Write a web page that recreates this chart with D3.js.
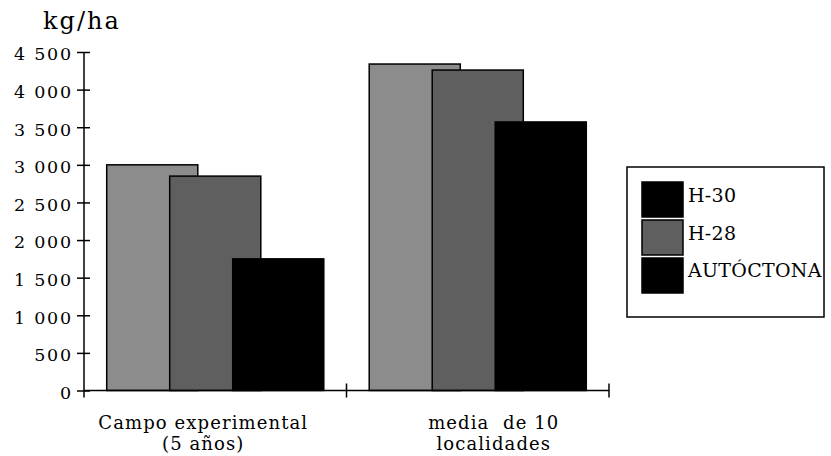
<!DOCTYPE html>
<html>
<head>
<meta charset="utf-8">
<script src="https://cdn.jsdelivr.net/npm/d3@7"></script>
<style>
  html, body { margin: 0; padding: 0; background: #fff; }
  svg { display: block; }
  text { font-family: "DejaVu Serif", serif; fill: #000; }
</style>
</head>
<body>
<svg id="chart" width="831" height="456"></svg>
<script>
// Rendimiento medio (kg/ha) por variedad
const categories = [["Campo experimental", "(5 años)"], ["media  de 10", "localidades"]];
const seriesNames = ["H-30", "H-28", "AUTÓCTONA"];
const h30 = [3000, 4340];
const h28 = [2850, 4260];
const autoctona = [1750, 3570];
const yTicks = [0, 500, 1000, 1500, 2000, 2500, 3000, 3500, 4000, 4500];
const yUnit = "kg/ha";

const barFills = ["#8c8c8c", "#5f5f5f", "#000000"];
const legendFills = ["#000000", "#5f5f5f", "#000000"];
const series = [h30, h28, autoctona];

const svg = d3.select("#chart");
const plotL = 84, plotR = 609, plotT = 52, plotB = 390.5;
const labelShift = [-12, 16];

const x = d3.scaleBand().domain(d3.range(categories.length)).range([plotL, plotR]).padding(0);
const y = d3.scaleLinear().domain([0, 4500]).range([plotB, plotT]);

// Overlapping bars within each category
const bw = x.bandwidth();
const barW = bw * 0.347;
const stepW = bw * 0.24;
const groupW = stepW * (series.length - 1) + barW;
const offset = (bw - groupW) / 2;

const fmt = d3.formatLocale({ decimal: ",", thousands: " ", grouping: [3], currency: ["", ""] }).format(",");

// Bars
series.forEach((vals, si) => {
  svg.append("g").selectAll("rect").data(vals).join("rect")
    .attr("x", (d, i) => x(i) + offset + si * stepW)
    .attr("y", d => y(d))
    .attr("width", barW)
    .attr("height", d => y(0) - y(d))
    .attr("fill", barFills[si])
    .attr("stroke", "#000")
    .attr("stroke-width", 1.5);
});

// Y axis
const yAxis = svg.append("g").attr("transform", `translate(${plotL},0)`)
  .call(d3.axisLeft(y).tickValues(yTicks).tickFormat(fmt).tickSize(7).tickPadding(4));
yAxis.select(".domain").remove();
yAxis.append("line").attr("x1", 0).attr("x2", 0).attr("y1", plotT).attr("y2", plotB + 7)
  .attr("stroke", "#000").attr("stroke-width", 1.5);
yAxis.selectAll(".tick line").attr("x1", 6).attr("stroke-width", 1.5);
yAxis.selectAll(".tick text")
  .style("font-family", "'DejaVu Serif', serif").style("font-size", "17.5px")
  .style("letter-spacing", "1.8px")
  .attr("dy", "0.45em")
  .attr("fill", "#000");

// X axis
const xg = svg.append("g");
xg.append("line").attr("x1", plotL).attr("x2", plotR).attr("y1", plotB).attr("y2", plotB)
  .attr("stroke", "#000").attr("stroke-width", 1.5);
xg.selectAll("line.tk").data(d3.range(1, categories.length + 1)).join("line")
  .attr("class", "tk")
  .attr("x1", i => x(i - 1) + bw).attr("x2", i => x(i - 1) + bw)
  .attr("y1", plotB - 7).attr("y2", plotB + 7)
  .attr("stroke", "#000").attr("stroke-width", 1.5);
const xl = xg.selectAll("text").data(categories).join("text")
  .attr("text-anchor", "middle")
  .style("font-size", "18px")
  .style("letter-spacing", "1.1px")
  .style("white-space", "pre");
xl.each(function(lines, i) {
  const t = d3.select(this);
  lines.forEach((ln, k) => {
    t.append("tspan").attr("x", x(i) + bw / 2 + labelShift[i]).attr("y", 429 + k * 21).text(ln);
  });
});

// Unit label
svg.append("text").attr("x", 43).attr("y", 29)
  .style("font-size", "24px").style("letter-spacing", "2px").text(yUnit);

// Legend
const lg = svg.append("g");
lg.append("rect").attr("x", 627).attr("y", 167).attr("width", 197).attr("height", 150)
  .attr("fill", "#fff").attr("stroke", "#000").attr("stroke-width", 1.5);
seriesNames.forEach((name, i) => {
  lg.append("rect").attr("x", 642).attr("y", 182 + i * 38).attr("width", 41).attr("height", 35)
    .attr("fill", legendFills[i]).attr("stroke", "#000").attr("stroke-width", 1.5);
  lg.append("text").attr("x", 688).attr("y", 202 + i * 37.5)
    .style("font-size", "19px").style("letter-spacing", "0.3px").text(name);
});
</script>
</body>
</html>
